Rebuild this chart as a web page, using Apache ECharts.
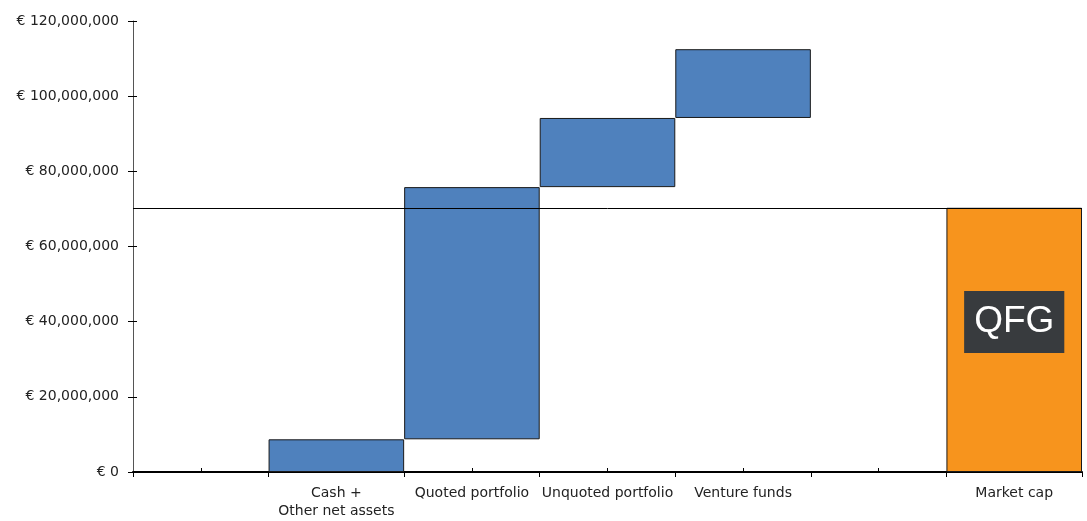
<!DOCTYPE html>
<html><head><meta charset="utf-8">
<script src="https://cdn.jsdelivr.net/npm/echarts@6/dist/echarts.min.js"></script>
<style>html,body{margin:0;padding:0;background:#fff}#c{width:1087px;height:521px}</style>
</head><body><div id="c"></div>
<script>
const categories = [' ', 'Cash +\nOther net assets', 'Quoted portfolio', 'Unquoted portfolio', 'Venture funds', '  ', 'Market cap'];
// waterfall: invisible base + visible step
const baseValues = [null, 0, 8700000, 75800000, 94200000, null, null];
const stepValues = [null, 8700000, 67100000, 18400000, 18300000, null, null];
const marketCap = [null, null, null, null, null, null, 70300000];
const marketCapLine = 70300000;
const yTicks = {min: 0, max: 120000000, interval: 20000000};

const font = 'DejaVu Sans, Verdana, sans-serif';
const chart = echarts.init(document.getElementById('c'), null, {renderer: 'canvas'});
chart.setOption({
  animation: false,
  grid: {left: 133, right: 5, top: 21, bottom: 49, containLabel: false},
  xAxis: [{
    type: 'category', data: categories, boundaryGap: true,
    axisLine: {lineStyle: {color: '#000', width: 2}},
    axisTick: {show: true, length: 5, lineStyle: {color: '#000', width: 1}},
    axisLabel: {color: '#222', fontFamily: font, fontSize: 14, margin: 12, lineHeight: 18, interval: 0}
  }, {
    type: 'category', data: categories, position: 'bottom', boundaryGap: true,
    axisLine: {show: false},
    axisTick: {show: true, inside: true, alignWithLabel: true, length: 4, lineStyle: {color: '#000', width: 1}},
    axisLabel: {show: false}, splitLine: {show: false}
  }],
  yAxis: [{
    type: 'value', min: yTicks.min, max: yTicks.max, interval: yTicks.interval,
    axisLine: {show: true, lineStyle: {color: '#555', width: 1}},
    axisTick: {show: true, length: 5, lineStyle: {color: '#000'}},
    splitLine: {show: false},
    axisLabel: {color: '#222', fontFamily: font, fontSize: 14, margin: 14,
      formatter: v => '€ ' + v.toLocaleString('en-US')}
  }, {
    type: 'value', min: yTicks.min, max: yTicks.max, interval: yTicks.interval, position: 'left',
    axisLine: {show: false},
    axisTick: {show: true, inside: true, length: 4, lineStyle: {color: '#000'}},
    axisLabel: {show: false}, splitLine: {show: false}
  }],
  series: [{
    type: 'bar', stack: 'w', data: baseValues, barWidth: '100%', barGap: '-100%',
    itemStyle: {color: 'transparent'}, silent: true
  }, {
    type: 'bar', stack: 'w', data: stepValues, barWidth: '100%',
    itemStyle: {color: '#4F81BD', borderColor: '#1a1a1a', borderWidth: 1},
    z: 2
  }, {
    type: 'bar', data: marketCap, barWidth: '100%', barGap: '-100%',
    itemStyle: {color: '#F7941D', borderColor: '#1a1a1a', borderWidth: 1},
    label: {show: true, position: 'inside', offset: [0, -18], formatter: 'QFG',
      color: '#fff', fontFamily: 'Liberation Sans, Arial, sans-serif', fontSize: 37,
      lineHeight: 38, backgroundColor: '#383B3E', padding: [12, 10, 12, 10]},
    markLine: {silent: true, symbol: ['none', 'none'], label: {show: false},
      lineStyle: {color: '#000', width: 1, type: 'solid'},
      data: [{yAxis: marketCapLine}]},
    z: 3
  }]
});
</script></body></html>
